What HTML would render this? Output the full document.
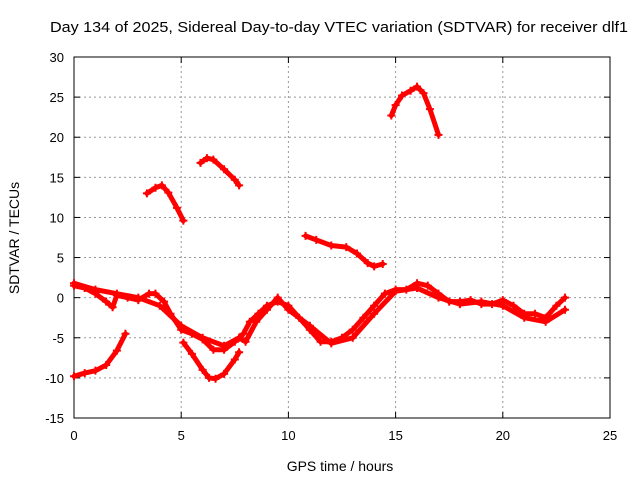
<!DOCTYPE html>
<html><head><meta charset="utf-8"><style>
body{margin:0;background:#fff}
svg{display:block;font-family:"Liberation Sans",sans-serif}
</style></head><body>
<svg id="chart" width="640" height="480">
<text x="339" y="32" text-anchor="middle" font-size="15" textLength="578" lengthAdjust="spacingAndGlyphs">Day 134 of 2025, Sidereal Day-to-day VTEC variation (SDTVAR) for receiver dlf1</text>
<g id="grid"></g>
<g id="axes"></g>
<g id="series"></g>
<text x="340" y="471" text-anchor="middle" font-size="14">GPS time / hours</text>
<text transform="translate(19,238) rotate(-90)" text-anchor="middle" font-size="14">SDTVAR / TECUs</text>
</svg>
<script>
const xTicks=[0,5,10,15,20,25];
const yTicks=[-15,-10,-5,0,5,10,15,20,25,30];
const s1X=[0,0.5,1,1.5,2,2.4], s1Y=[-9.8,-9.4,-9.1,-8.4,-6.6,-4.5];
const s2X=[3.4,3.8,4.1,4.4,4.8,5.1], s2Y=[13,13.7,14,13.1,11.2,9.6];
const s3X=[5.9,6.2,6.5,7,7.5,7.7], s3Y=[16.8,17.4,17.2,16,14.7,14];
const s4X=[10.8,11.3,12,12.7,13.2,13.7,14,14.4], s4Y=[7.7,7.2,6.5,6.3,5.5,4.3,3.9,4.2];
const s5X=[14.8,15,15.3,15.7,16,16.3,16.6,17], s5Y=[22.7,24,25.2,25.8,26.3,25.5,23.5,20.3];
const s6X=[5.1,5.5,6,6.3,6.6,7,7.5,7.7], s6Y=[-5.6,-7,-9,-10,-10.1,-9.5,-7.7,-6.8];
const mX=[0,0.5,1,1.5,1.8,2,2.5,3,3.5,3.8,4.2,4.5,5,5.5,6,6.5,7,7.5,7.9,8.2,8.6,9,9.5,10,10.5,11,11.5,12,12.5,13,13.5,14,14.5,15,15.5,16,16.5,17,17.5,18,18.5,19,19.5,20,20.5,21,21.5,22,22.5,22.9];
const mY=[1.5,1.2,0.5,-0.5,-1.2,0.3,0,-0.3,0.5,0.5,-0.5,-2,-4,-4.5,-5.2,-6.5,-6.5,-5.5,-4.5,-3,-2,-1,-0.5,-1,-2.5,-4,-5.5,-5.5,-5,-4,-2.5,-1,0.5,1,1,1.8,1.5,0.5,-0.5,-0.5,-0.3,-0.8,-0.8,-0.3,-1,-2,-2,-2.5,-1,0];
const bX=[0,1,2,3,4,5,6,7,7.7,8,8.5,9,9.5,10,11,12,13,14,15,16,17,18,19,20,21,22,22.9];
const bY=[1.8,1,0.5,0,-1,-3.5,-5,-6,-5,-5.5,-3,-1.5,0,-1.5,-3.5,-5.7,-5,-2,0.8,1.2,0,-0.8,-0.5,-1,-2.5,-3,-1.5];
const X0=74,X1=610,Y0=418,Y1=57;
const sx=v=>X0+(v-0)/25*(X1-X0);
const sy=v=>Y0-(v+15)/45*(Y0-Y1);
const NS='http://www.w3.org/2000/svg';
function mk(t,a,p){const e=document.createElementNS(NS,t);for(const k in a)e.setAttribute(k,a[k]);p.appendChild(e);return e;}
const grid=document.getElementById('grid'),axes=document.getElementById('axes'),ser=document.getElementById('series');
xTicks.forEach(t=>{
 if(t>0&&t<25){const l=mk('line',{x1:sx(t),x2:sx(t),y1:Y0,y2:Y1,stroke:'#999','stroke-dasharray':'2,3'},grid);
 
 }
 const tx=mk('text',{x:sx(t),y:Y0+22,'text-anchor':'middle','font-size':13},axes);tx.textContent=t;
 
 
 mk('line',{x1:sx(t),x2:sx(t),y1:Y0,y2:Y0-6,stroke:'#000'},axes);
 mk('line',{x1:sx(t),x2:sx(t),y1:Y1,y2:Y1+6,stroke:'#000'},axes);
});
yTicks.forEach(t=>{
 if(t>-15&&t<30){const l=mk('line',{x1:X0,x2:X1,y1:sy(t),y2:sy(t),stroke:'#999','stroke-dasharray':'2,3'},grid);
 
 }
 const tx=mk('text',{x:X0-10,y:sy(t)+5,'text-anchor':'end','font-size':13},axes);tx.textContent=t;
 
 
 mk('line',{x1:X0,x2:X0+6,y1:sy(t),y2:sy(t),stroke:'#000'},axes);
 mk('line',{x1:X1,x2:X1-6,y1:sy(t),y2:sy(t),stroke:'#000'},axes);
});
const fr=mk('rect',{x:X0,y:Y1,width:X1-X0,height:Y0-Y1,fill:'none',stroke:'#000'},axes);


function draw(xs,ys,name){
 const g=mk('g',{},ser);
 
 
 mk('polyline',{points:xs.map((x,i)=>sx(x)+','+sy(ys[i])).join(' '),fill:'none',stroke:'#f00','stroke-width':5,'stroke-linejoin':'round','stroke-linecap':'round'},g);
 xs.forEach((x,i)=>{const cx=sx(x),cy=sy(ys[i]);
  mk('path',{d:`M${cx-4},${cy}H${cx+4}M${cx},${cy-4}V${cy+4}`,stroke:'#f00','stroke-width':2},g);});
}
draw(s1X,s1Y,'series-arc-1');draw(s2X,s2Y,'series-arc-2');draw(s3X,s3Y,'series-arc-3');
draw(s4X,s4Y,'series-arc-4');draw(s5X,s5Y,'series-arc-5');draw(s6X,s6Y,'series-arc-6');
draw(mX,mY,'series-main');draw(bX,bY,'series-main-branch');
</script>
</body></html>
